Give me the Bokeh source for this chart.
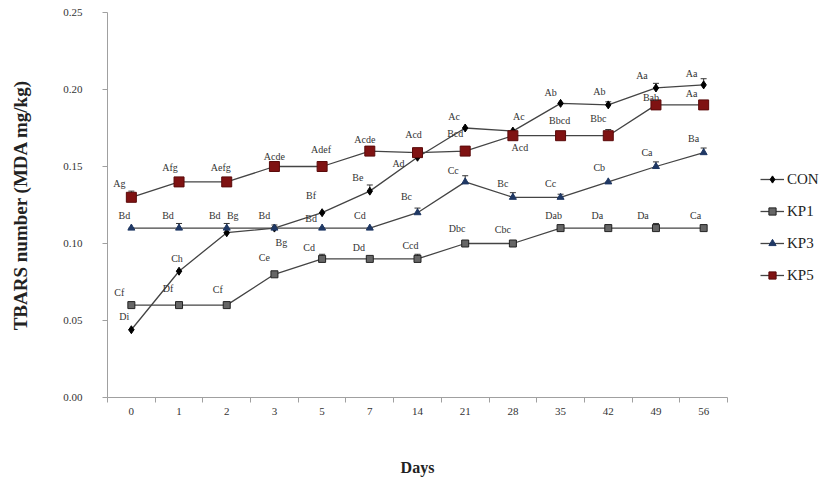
from bokeh.plotting import figure
from bokeh.layouts import row
from bokeh.models import (ColumnDataSource, Range1d, LinearAxis,
                          FixedTicker, Legend, LegendItem, Whisker, TeeHead,
                          NumeralTickFormatter)
from bokeh.embed import file_html
from bokeh.resources import INLINE
from bokeh.core.properties import value

# ---------------- data ----------------
days = ["0", "1", "2", "3", "5", "7", "14", "21", "28", "35", "42", "49", "56"]

con = [0.044, 0.082, 0.107, 0.110, 0.120, 0.134, 0.156, 0.175, 0.173, 0.191, 0.190, 0.201, 0.203]
kp1 = [0.060, 0.060, 0.060, 0.080, 0.090, 0.090, 0.090, 0.100, 0.100, 0.110, 0.110, 0.110, 0.110]
kp3 = [0.110, 0.110, 0.110, 0.110, 0.110, 0.110, 0.120, 0.140, 0.130, 0.130, 0.140, 0.150, 0.159]
kp5 = [0.130, 0.140, 0.140, 0.150, 0.150, 0.160, 0.159, 0.160, 0.170, 0.170, 0.170, 0.190, 0.190]

con_err = [0.000, 0.000, 0.000, 0.000, 0.000, 0.004, 0.002, 0.000, 0.000, 0.000, 0.002, 0.003, 0.004]
kp1_err = [0.000, 0.000, 0.000, 0.000, 0.003, 0.000, 0.003, 0.000, 0.000, 0.000, 0.002, 0.003, 0.000]
kp3_err = [0.000, 0.003, 0.003, 0.002, 0.000, 0.000, 0.003, 0.004, 0.003, 0.002, 0.000, 0.003, 0.003]
kp5_err = [0.004, 0.002, 0.002, 0.000, 0.003, 0.000, 0.000, 0.000, 0.000, 0.000, 0.004, 0.000, 0.000]

con_lab = ["Di", "Ch", "Bg", "Bg", "Bf", "Be", "Ad", "Ac", "Ac", "Ab", "Ab", "Aa", "Aa"]
kp1_lab = ["Cf", "Df", "Cf", "Ce", "Cd", "Dd", "Ccd", "Dbc", "Cbc", "Dab", "Da", "Da", "Ca"]
kp3_lab = ["Bd", "Bd", "Bd", "Bd", "Bd", "Cd", "Bc", "Cc", "Bc", "Cc", "Cb", "Ca", "Ba"]
kp5_lab = ["Ag", "Afg", "Aefg", "Acde", "Adef", "Acde", "Acd", "Bcd", "Acd", "Bbcd", "Bbc", "Bab", "Aa"]

series_names = ["CON", "KP1", "KP3", "KP5"]
y_ticks = [0.0, 0.05, 0.10, 0.15, 0.20, 0.25]

# ---------------- label placement (screen px, negative dy = up) ----------------
con_dx = [-7, -2, 6, 7, -11, -12, -19, -11, 6, -10, -9, -14, -12]
con_dy = [-13, -13, -17, 14, -17, -14, 6, -12, -15, -11, -13, -12, -11]
kp1_dx = [-12, -11, -9, -10, -13, -11, -7, -8, -10, -7, -11, -13, -8]
kp1_dy = [-13, -17, -16, -17, -11, -11, -13, -15, -14, -13, -13, -13, -13]
kp3_dx = [-7, -11, -12, -10, -11, -10, -11, -12, -10, -10, -9, -9, -10]
kp3_dy = [-13, -13, -13, -13, -10, -13, -16, -11, -14, -14, -14, -14, -14]
kp5_dx = [-12, -9, -6, 0, -1, -5, -4, -10, 7, -1, -10, -5, -12]
kp5_dy = [-14, -14, -14, -10, -17, -12, -18, -18, 12, -15, -17, -7, -11]

SERIF = "Liberation Serif"
LINE_COLOR = "#444444"
AXIS_COLOR = "#a0a0a0"
TEXT_COLOR = "#333333"

n = len(days)
xpos = [i + 0.5 for i in range(n)]          # category centres on the x scale

p = figure(width=735, height=484, x_range=Range1d(0, n), y_range=Range1d(0, 0.25),
           output_backend="svg", toolbar_location=None, x_axis_location=None,
           min_border_left=107, min_border_right=8, min_border_top=12,
           min_border_bottom=87, outline_line_color=None)
p.grid.visible = False
p.background_fill_color = "white"

# y axis
ya = p.yaxis[0]
ya.ticker = FixedTicker(ticks=y_ticks)
ya.formatter = NumeralTickFormatter(format="0.00")
ya.axis_line_color = AXIS_COLOR
ya.major_tick_line_color = AXIS_COLOR
ya.major_tick_in = 0
ya.major_tick_out = 5
ya.minor_tick_line_color = None
ya.major_label_text_font = SERIF
ya.major_label_text_font_size = "11px"
ya.major_label_text_color = TEXT_COLOR
ya.major_label_standoff = 20
ya.axis_label = "TBARS number (MDA mg/kg)"
ya.axis_label_text_font = SERIF
ya.axis_label_text_font_size = "19px"
ya.axis_label_text_font_style = "bold"
ya.axis_label_text_color = "#222222"
ya.axis_label_standoff = 29

# x axis: minor ticks on category boundaries, labels at category centres
xa = LinearAxis(ticker=FixedTicker(ticks=xpos, minor_ticks=list(range(n + 1))),
                major_label_overrides={x: d for x, d in zip(xpos, days)},
                axis_line_color=AXIS_COLOR, major_tick_line_color=None,
                minor_tick_line_color=AXIS_COLOR, minor_tick_in=0, minor_tick_out=5,
                major_label_standoff=4, major_label_text_font=SERIF,
                major_label_text_font_size="11px", major_label_text_color=TEXT_COLOR,
                axis_label="Days", axis_label_text_font=SERIF,
                axis_label_text_font_size="16px", axis_label_text_font_style="bold",
                axis_label_text_color="#222222", axis_label_standoff=41)
p.add_layout(xa, "below")

styles = {
    "CON": dict(marker="diamond", size=8, fill_color="black", line_color="black"),
    "KP1": dict(marker="square", size=7, fill_color="#666666", line_color="#222222"),
    "KP3": dict(marker="triangle", size=7, fill_color="#1f3864", line_color="#1f3864"),
    "KP5": dict(marker="square", size=10, fill_color="#7f1212", line_color="#5a0a0a"),
}

all_vals = [con, kp1, kp3, kp5]
all_err = [con_err, kp1_err, kp3_err, kp5_err]
all_lab = [con_lab, kp1_lab, kp3_lab, kp5_lab]
all_dx = [con_dx, kp1_dx, kp3_dx, kp5_dx]
all_dy = [con_dy, kp1_dy, kp3_dy, kp5_dy]

# side figure that only carries the legend
lf = figure(width=92, height=484, x_range=Range1d(0, 1), y_range=Range1d(0, 1),
            output_backend="svg", toolbar_location=None, x_axis_location=None,
            y_axis_location=None, min_border=0, outline_line_color=None)
lf.grid.visible = False

items = []
for name, vals, err, lab, dx, dy in zip(series_names, all_vals, all_err, all_lab, all_dx, all_dy):
    src = ColumnDataSource(dict(x=xpos, day=days, y=vals,
                                upper=[v + e for v, e in zip(vals, err)],
                                lab=lab, dx=dx, dy=dy))
    p.line("x", "y", source=src, line_color=LINE_COLOR, line_width=1.3)
    wh = Whisker(base="x", upper="upper", lower="y", source=src, dimension="height",
                 line_color="#333333", line_width=1,
                 upper_head=TeeHead(size=6, line_color="#333333", line_width=1),
                 lower_head=None)
    p.add_layout(wh)
    p.scatter("x", "y", source=src, **styles[name])
    p.text("x", "y", text="lab", source=src, x_offset="dx", y_offset="dy",
           text_font=value(SERIF), text_font_size="10px", text_color=TEXT_COLOR,
           text_align="center", text_baseline="middle")
    # legend proxies: a single undrawable (NaN) point, only the legend swatch shows
    proxy = ColumnDataSource(dict(x=[float("nan")], y=[float("nan")]))
    lln = lf.line("x", "y", source=proxy, line_color=LINE_COLOR, line_width=1.3)
    lsc = lf.scatter("x", "y", source=proxy, **styles[name])
    items.append(LegendItem(label=name, renderers=[lln, lsc]))

legend = Legend(items=items, location=(25, 113), orientation="vertical",
                label_text_font=SERIF, label_text_font_size="15px",
                label_text_color="#222222", glyph_width=24, glyph_height=18,
                spacing=14, padding=0, margin=0, label_standoff=3,
                border_line_color=None, background_fill_alpha=0)
lf.add_layout(legend, "center")

layout = row(p, lf)
open("out.html", "w").write(file_html(layout, INLINE))
